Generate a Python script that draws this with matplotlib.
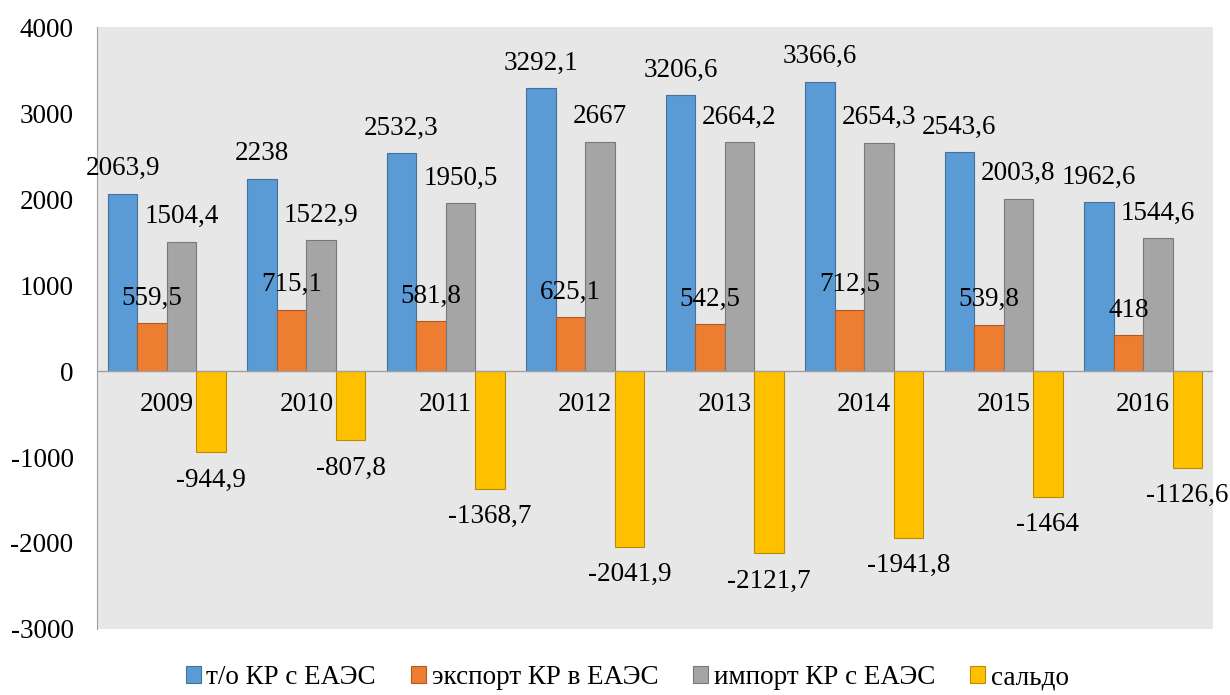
import numpy as np
import matplotlib.pyplot as plt

plt.rcParams['font.family'] = ['Liberation Serif', 'DejaVu Serif']
plt.rcParams['axes.unicode_minus'] = False

years = ['2009', '2010', '2011', '2012', '2013', '2014', '2015', '2016']
turnover = [2063.9, 2238, 2532.3, 3292.1, 3206.6, 3366.6, 2543.6, 1962.6]
export = [559.5, 715.1, 581.8, 625.1, 542.5, 712.5, 539.8, 418]
imports = [1504.4, 1522.9, 1950.5, 2667, 2664.2, 2654.3, 2003.8, 1544.6]
balance = [-944.9, -807.8, -1368.7, -2041.9, -2121.7, -1941.8, -1464, -1126.6]

series = [
    ('т/о КР с ЕАЭС', turnover, '#5b9bd5', '#41719c'),
    ('экспорт КР в ЕАЭС', export, '#ed7d31', '#ae5a21'),
    ('импорт КР с ЕАЭС', imports, '#a5a5a5', '#787878'),
    ('сальдо', balance, '#ffc000', '#bc8c00'),
]

FS = 19.5


def fmt(v):
    return f'{v:g}'.replace('.', ',')


fig = plt.figure(figsize=(12.3, 6.95), dpi=100)
ax = fig.add_axes([0.079, 0.095, 0.907, 0.866])
ax.set_facecolor('#e7e7e7')

x = np.arange(len(years))
w = 0.2115
for k, (name, vals, color, edge) in enumerate(series):
    pos = x + (k - 1.5) * w
    ax.bar(pos, vals, w, color=color, edgecolor=edge, linewidth=0.8, label=name, zorder=2)
    for p, v in zip(pos, vals):
        off = 18 if v >= 0 else -20
        ax.annotate(fmt(v), (p, v), xytext=(0, off), textcoords='offset points',
                    ha='center', va='center', fontsize=FS, zorder=3)

for i, y in enumerate(years):
    ax.annotate(y, (i, 0), xytext=(0, -24), textcoords='offset points',
                ha='center', va='center', fontsize=FS, zorder=3)

ax.axhline(0, color='#a0a0a0', linewidth=1, zorder=2.5)
ax.set_xlim(-0.5, len(years) - 0.5)
ax.set_ylim(-3000, 4000)
ax.set_yticks(range(-3000, 4001, 1000))
ax.set_xticks([])
ax.tick_params(axis='y', length=0, pad=17, labelsize=FS)
for s in ['top', 'right', 'bottom']:
    ax.spines[s].set_visible(False)
ax.spines['left'].set_color('#a0a0a0')

fig.legend(loc='lower center', bbox_to_anchor=(0.51, -0.028), ncol=4, frameon=False,
           fontsize=FS, handlelength=0.55, handleheight=0.55, handletextpad=0.2,
           columnspacing=1.3)

fig.savefig('out.png', dpi=100)
